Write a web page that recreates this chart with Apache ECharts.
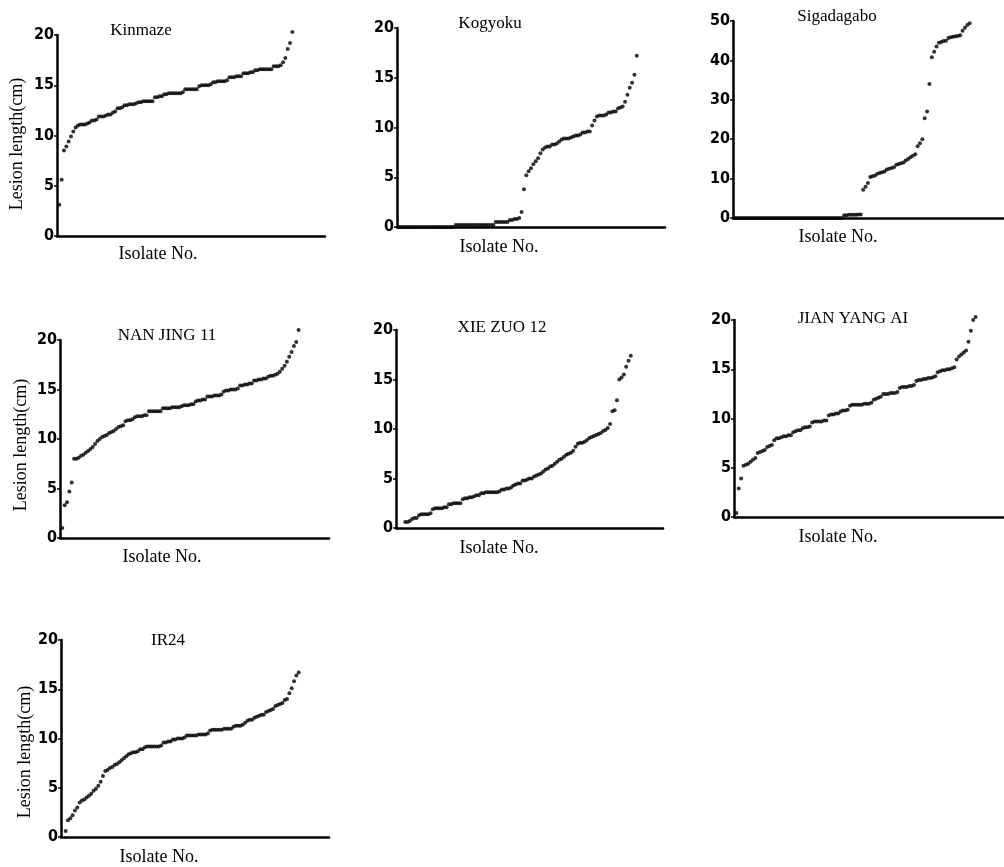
<!DOCTYPE html>
<html><head><meta charset="utf-8">
<script src="https://cdn.jsdelivr.net/npm/echarts@6/dist/echarts.min.js"></script>
<style>html,body{margin:0;padding:0;background:#fff}#c{width:1004px;height:867px}</style>
</head><body><div id="c"></div>
<script>
// ---------- data ----------
const panelNames = ['Kinmaze','Kogyoku','Sigadagabo','NAN JING 11','XIE ZUO 12','JIAN YANG AI','IR24'];
const xAxisName = 'Isolate No.';
const yAxisName = 'Lesion length(cm)';
const yMax = [20,20,50,20,20,20,20];
const yInterval = [5,5,10,5,5,5,5];
const xMin = [0,0,0,0,-3,0,-1];
const xMax = [115,114,114.5,115,113,114,114];

const kinmaze = [3.1,5.6,8.5,8.9,9.4,9.9,10.4,10.8,
 11.0,11.1,11.1,11.1,11.2,11.3,
 11.5,11.5,11.6,
 11.9,11.9,11.9,
 12.0,12.1,12.1,
 12.3,12.4,
 12.7,12.7,12.8,
 13.0,13.0,13.1,13.1,13.1,13.2,
 13.3,13.3,13.4,13.4,13.4,13.4,13.4,
 13.8,13.8,13.9,13.9,
 14.1,14.1,14.2,14.2,14.2,14.2,14.2,14.2,14.3,
 14.6,14.6,14.6,14.6,14.6,14.6,
 14.9,15.0,15.0,15.0,15.0,15.1,
 15.3,15.3,15.4,15.4,15.4,15.4,15.5,
 15.8,15.8,15.8,15.9,15.9,15.9,
 16.2,16.2,16.2,16.3,16.3,
 16.5,16.5,16.6,16.6,16.6,16.6,16.6,16.6,
 16.9,16.9,16.9,17.0,
 17.3,17.7,18.6,19.2,20.3];

const kogyoku = [0,0,0,0,0,0,0,0,0,0,0,0,0,0,0,0,0,0,0,0,0,0,0,0,
 0.2,0.2,0.2,0.2,0.2,0.2,0.2,0.2,0.2,0.2,0.2,0.2,0.2,0.2,0.2,0.2,0.2,
 0.5,0.5,0.5,0.5,0.5,0.5,
 0.7,0.7,0.8,0.8,0.9,
 1.5,3.8,5.2,5.6,5.9,6.3,6.6,6.9,7.4,7.8,
 8.0,8.1,8.1,8.3,8.3,8.4,
 8.6,8.8,8.9,8.9,8.9,9.0,
 9.1,9.2,9.2,9.3,9.5,9.5,9.6,9.6,
 10.2,10.7,11.1,11.2,11.2,11.2,11.3,
 11.5,11.5,11.6,11.6,11.9,12.0,12.1,
 12.6,13.3,14.0,14.5,15.3,17.2];

const sigadagabo = [0,0,0,0,0,0,0,0,0,0,0,0,0,0,0,0,0,0,0,0,0,0,0,0,0,0,0,0,0,0,
 0,0,0,0,0,0,0,0,0,0,0,0,0,0,0,0,
 0.7,0.7,0.8,0.8,0.8,0.8,0.9,0.9,
 7.2,7.9,8.9,10.4,10.6,10.8,11.2,11.4,11.6,11.8,
 12.3,12.5,12.7,12.9,13.5,13.7,13.9,14.1,
 14.6,15.0,15.4,15.8,16.2,18.2,19.0,20.0,
 25.3,27.0,34.0,40.8,42.2,43.5,
 44.5,44.7,44.9,45.0,45.7,45.9,46.0,46.1,46.2,46.4,
 47.5,48.3,49.0,49.4];

const nanJing11 = [1.0,3.3,3.6,4.7,5.6,
 8.0,8.0,8.1,8.3,8.4,8.6,8.8,9.0,9.2,
 9.5,9.8,10.0,10.2,10.3,10.4,
 10.6,10.7,10.8,11.0,11.2,11.3,11.4,
 11.8,11.9,11.9,12.0,
 12.2,12.3,12.3,12.3,12.4,12.4,
 12.8,12.8,12.8,12.8,12.8,12.8,
 13.1,13.1,13.1,13.1,13.2,13.2,13.2,13.2,
 13.3,13.4,13.4,13.4,13.5,13.5,
 13.8,13.9,13.9,14.0,14.0,
 14.3,14.3,14.3,14.4,14.4,14.4,14.5,
 14.8,14.9,14.9,15.0,15.0,15.0,15.1,
 15.4,15.4,15.5,15.5,15.6,15.6,
 15.9,15.9,16.0,16.0,16.1,16.1,
 16.3,16.4,16.4,16.5,
 16.6,16.8,17.1,17.4,17.8,18.3,18.8,19.4,19.8,21.0];

const xieZuo12 = [0.6,0.6,0.7,0.9,1.0,1.0,
 1.3,1.4,1.4,1.4,1.4,1.5,
 1.9,2.0,2.0,2.0,2.0,2.1,2.1,
 2.4,2.4,2.5,2.5,2.5,2.5,
 2.9,3.0,3.0,3.1,3.1,3.2,3.3,3.3,
 3.5,3.5,3.6,3.6,3.6,3.6,3.6,3.6,3.7,
 3.9,3.9,4.0,4.0,4.1,4.3,4.4,4.5,4.5,
 4.8,4.8,4.9,5.0,5.0,5.2,5.3,5.4,5.5,
 5.7,5.9,6.0,6.2,6.3,6.5,6.7,6.9,7.0,
 7.2,7.4,7.5,7.6,7.8,8.2,8.5,8.6,8.6,8.7,
 8.9,9.1,9.2,9.3,9.4,9.5,9.6,9.8,9.9,10.1,
 10.5,11.8,11.9,12.9,15.0,15.2,15.5,16.3,16.9,17.4];

const jianYangAi = [0.4,2.9,3.9,5.2,5.3,5.4,5.6,5.8,6.0,
 6.5,6.6,6.7,6.8,7.1,7.2,7.3,
 7.8,8.0,8.0,8.1,8.2,8.2,8.3,8.3,
 8.6,8.7,8.8,8.8,9.0,9.1,9.1,9.2,
 9.6,9.7,9.7,9.7,9.7,9.8,9.8,
 10.3,10.4,10.4,10.5,10.5,10.7,10.8,10.8,10.9,
 11.3,11.4,11.4,11.4,11.4,11.4,11.5,11.5,11.5,11.6,
 11.9,12.0,12.1,12.2,
 12.5,12.5,12.5,12.6,12.6,12.6,12.7,
 13.1,13.2,13.2,13.2,13.3,13.3,13.4,
 13.8,13.9,13.9,14.0,14.0,14.1,14.1,14.2,14.3,
 14.7,14.8,14.9,14.9,15.0,15.0,15.1,15.2,
 16.0,16.3,16.5,16.7,16.9,17.8,18.9,20.0,20.3];

const ir24 = [0.6,1.7,1.9,2.2,2.7,3.0,3.5,3.7,3.8,4.0,
 4.2,4.4,4.7,4.9,5.2,5.6,6.2,6.7,6.8,7.0,
 7.1,7.3,7.4,7.6,7.8,8.0,8.2,8.4,8.5,8.6,
 8.6,8.7,8.9,8.9,9.1,9.2,9.2,9.2,9.2,9.2,
 9.2,9.3,9.6,9.6,9.7,9.7,9.9,9.9,10.0,10.0,
 10.0,10.1,10.3,10.3,10.3,10.3,10.3,10.4,10.4,10.4,
 10.4,10.5,10.8,10.9,10.9,10.9,10.9,10.9,11.0,11.0,
 11.0,11.0,11.2,11.3,11.3,11.3,11.4,11.6,11.8,11.9,
 11.9,12.1,12.2,12.3,12.4,12.4,12.7,12.8,12.9,13.0,
 13.3,13.4,13.5,13.6,13.9,14.0,14.6,15.1,15.8,16.4,16.7];

const panelValues = [kinmaze,kogyoku,sigadagabo,nanJing11,xieZuo12,jianYangAi,ir24];

// ---------- layout (pixels) ----------
const gridBoxes = [[57,35,268,201],[397,28,268,199],[733,21,271,197],
                   [60,340,269,198],[396,330,267,198],[734,320,270,197],
                   [61,640,268,197]];
const titlePos = [[141,31],[490,24],[837,17],[167,336],[502,328],[853,319],[168,641]];
const xNamePos = [[158,254],[499,247],[838,237],[162,557],[499,548],[838,537],[159,857]];
const yNamePanels = [0,3,6];
const yNamePos = [[17,144],[21,445],[25,752]];

const INK = '#000000';
const serif = '"Liberation Serif","DejaVu Serif",serif';

const grid = [], xAxis = [], yAxis = [], series = [], graphic = [];
panelNames.forEach((name, k) => {
  const b = gridBoxes[k];
  grid.push({left: b[0], top: b[1], width: b[2], height: b[3], containLabel: false});
  xAxis.push({
    gridIndex: k, type: 'value', min: xMin[k], max: xMax[k],
    axisLine: {show: true, onZero: false, lineStyle: {color: INK, width: 2.5}},
    axisTick: {show: false}, axisLabel: {show: false}, splitLine: {show: false}
  });
  yAxis.push({
    gridIndex: k, type: 'value', min: 0, max: yMax[k], interval: yInterval[k],
    axisLine: {show: true, onZero: false, lineStyle: {color: INK, width: 2.5}},
    axisTick: {show: true, length: 3, lineStyle: {color: INK, width: 1.5}},
    axisLabel: {show: true, margin: 3, color: INK, fontSize: 16, fontWeight: 'bold',
                fontFamily: '"Liberation Sans Narrow","DejaVu Sans Condensed",sans-serif'},
    splitLine: {show: false}
  });
  series.push({
    type: 'scatter', name: name, xAxisIndex: k, yAxisIndex: k,
    data: panelValues[k].map((v, i) => [i + 1, v]),
    symbol: 'circle', symbolSize: 4, clip: false, silent: true,
    itemStyle: {color: INK}
  });
  graphic.push({type: 'text', x: titlePos[k][0], y: titlePos[k][1], silent: true,
    style: {text: name, fill: INK, font: '17px ' + serif,
            textAlign: 'center', textVerticalAlign: 'middle', align: 'center', verticalAlign: 'middle'}});
  graphic.push({type: 'text', x: xNamePos[k][0], y: xNamePos[k][1], silent: true,
    style: {text: xAxisName, fill: INK, font: '18px ' + serif,
            textAlign: 'center', textVerticalAlign: 'middle', align: 'center', verticalAlign: 'middle'}});
});
yNamePanels.forEach((k, j) => {
  graphic.push({type: 'text', x: yNamePos[j][0], y: yNamePos[j][1], rotation: Math.PI / 2, silent: true,
    style: {text: yAxisName, fill: INK, font: '18px ' + serif,
            textAlign: 'center', textVerticalAlign: 'middle', align: 'center', verticalAlign: 'middle'}});
});

const chart = echarts.init(document.getElementById('c'), null, {renderer: 'canvas'});
chart.setOption({
  backgroundColor: '#ffffff',
  animation: false,
  grid, xAxis, yAxis, series, graphic
});
</script></body></html>
